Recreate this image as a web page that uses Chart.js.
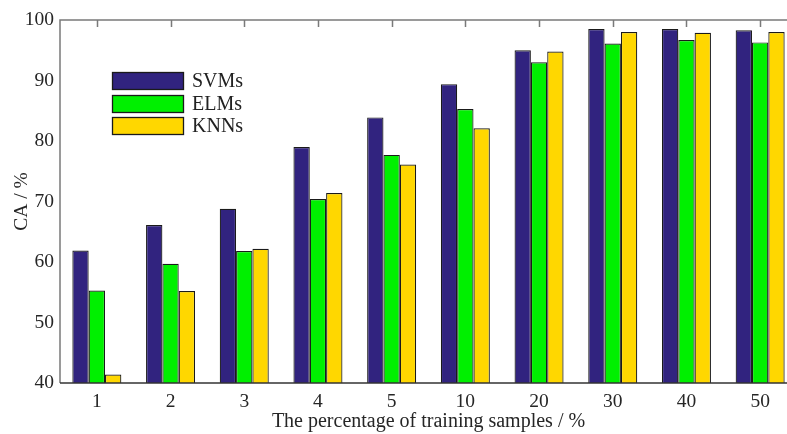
<!DOCTYPE html>
<html>
<head>
<meta charset="utf-8">
<script src="https://cdn.jsdelivr.net/npm/chart.js@4/dist/chart.umd.min.js"></script>
<style>
  html, body { margin: 0; padding: 0; background: #fff; overflow: hidden; }
  #wrap { width: 787px; height: 434px; overflow: hidden; }
</style>
</head>
<body>
<div id="wrap"><canvas id="ca" width="800" height="434"></canvas></div>
<script>
// training sample percentages on the x axis
const sampleLabels = ['1', '2', '3', '4', '5', '10', '20', '30', '40', '50'];

// classification accuracy (%) per classifier
const svmValues = [61.9, 66.1, 68.8, 79.0, 83.9, 89.4, 95.0, 98.5, 98.5, 98.3];
const elmValues = [55.3, 59.7, 61.8, 70.4, 77.7, 85.3, 93.0, 96.1, 96.7, 96.3];
const knnValues = [41.4, 55.2, 62.2, 71.4, 76.1, 82.1, 94.8, 98.0, 97.9, 98.0];

const seriesNames = ['SVMs', 'ELMs', 'KNNs'];
const seriesColors = ['#31237f', '#00f000', '#ffd700'];

const serif = "'Liberation Serif', 'Times New Roman', serif";

// axis box, top tick marks and the legend drawn by hand
const framePlugin = {
  id: 'frame',
  afterDraw(chart) {
    const ctx = chart.ctx;
    const a = chart.chartArea;
    const xs = chart.scales.x;
    ctx.save();
    ctx.lineWidth = 1.5;
    ctx.strokeStyle = '#7a7a7a';
    ctx.beginPath();
    ctx.moveTo(a.left, a.bottom);
    ctx.lineTo(a.left, a.top);
    ctx.lineTo(a.right, a.top);
    ctx.lineTo(a.right, a.bottom);
    ctx.stroke();
    ctx.beginPath();
    for (let i = 0; i < sampleLabels.length; i++) {
      const x = Math.round(xs.getPixelForTick(i)) + 0.5;
      ctx.moveTo(x, a.top);
      ctx.lineTo(x, a.top + 7);
    }
    ctx.stroke();
    ctx.strokeStyle = '#333';
    ctx.beginPath();
    ctx.moveTo(a.left, a.bottom);
    ctx.lineTo(a.right, a.bottom);
    ctx.stroke();

    // legend
    const lx = 112, ly = 72, bw = 71, bh = 17, step = 22.7;
    ctx.font = '20px ' + serif;
    ctx.textBaseline = 'middle';
    ctx.textAlign = 'left';
    chart.data.datasets.forEach((ds, i) => {
      const y = Math.round(ly + i * step) + 0.5;
      ctx.fillStyle = ds.backgroundColor;
      ctx.fillRect(lx + 0.5, y, bw, bh);
      ctx.lineWidth = 1.3;
      ctx.strokeStyle = '#1a1a1a';
      ctx.strokeRect(lx + 0.5, y, bw, bh);
      ctx.fillStyle = '#222';
      ctx.fillText(ds.label, lx + bw + 9, y + bh / 2 + 1);
    });
    ctx.restore();
  }
};

const ctx = document.getElementById('ca').getContext('2d');
new Chart(ctx, {
  type: 'bar',
  data: {
    labels: sampleLabels,
    datasets: [svmValues, elmValues, knnValues].map((vals, i) => ({
      label: seriesNames[i],
      data: vals,
      backgroundColor: seriesColors[i],
      borderColor: '#1a1a1a',
      borderWidth: 1.2,
      borderSkipped: 'bottom',
      categoryPercentage: 0.665,
      barPercentage: 1.0
    }))
  },
  options: {
    responsive: false,
    animation: false,
    layout: { padding: { top: 20, right: 3, left: 0, bottom: 0 } },
    plugins: {
      legend: { display: false },
      tooltip: { enabled: false }
    },
    scales: {
      x: {
        grid: { display: false, drawTicks: false },
        border: { display: false },
        ticks: { color: '#262626', font: { family: serif, size: 19.5 }, padding: 7, maxRotation: 0 },
        title: {
          display: true,
          text: 'The percentage of training samples / %',
          color: '#262626',
          font: { family: serif, size: 20 },
          padding: { top: 0, bottom: 0 }
        },
        afterFit(scale) { scale.height = 51; }
      },
      y: {
        min: 40,
        max: 100,
        grid: { display: false, drawTicks: false },
        border: { display: false },
        ticks: { stepSize: 10, color: '#262626', font: { family: serif, size: 19.5 }, padding: 6 },
        title: {
          display: true,
          text: 'CA / %',
          color: '#262626',
          font: { family: serif, size: 19.5 },
          padding: { top: 10, bottom: 0 }
        },
        afterFit(scale) { scale.width = 60; }
      }
    }
  },
  plugins: [framePlugin]
});
</script>
</body>
</html>
